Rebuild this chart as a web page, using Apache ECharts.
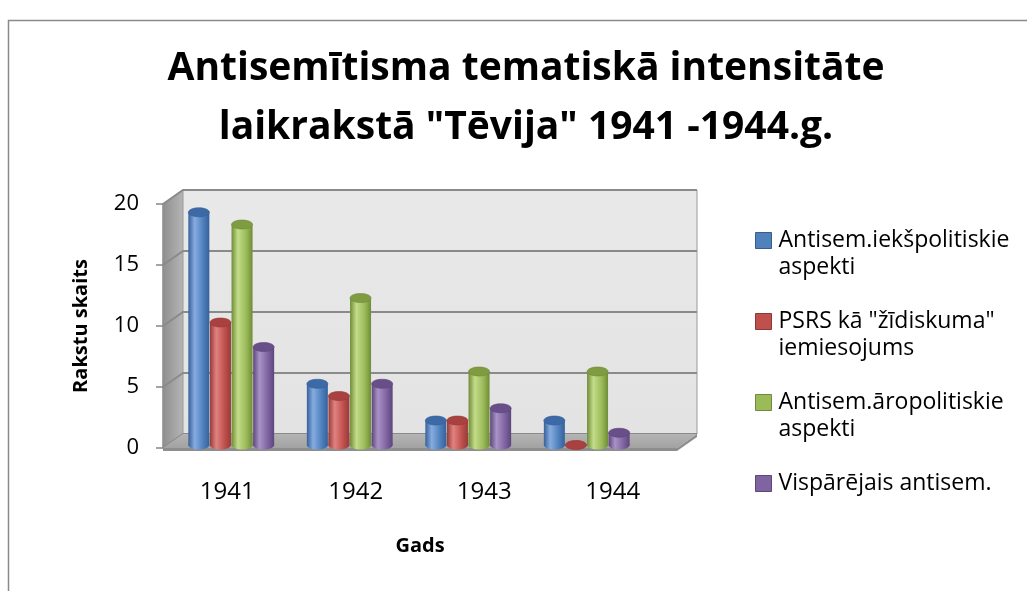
<!DOCTYPE html>
<html><head><meta charset="utf-8">
<script src="https://cdn.jsdelivr.net/npm/echarts@6/dist/echarts.min.js"></script>
<style>html,body{margin:0;padding:0;background:#fff}#c{width:1027px;height:591px}</style>
</head><body><div id="c"></div>
<script>
// ---- data ----
const categories = ['1941', '1942', '1943', '1944'];
const seriesNames = [
  'Antisem.iekšpolitiskie\naspekti',
  'PSRS kā "žīdiskuma"\niemiesojums',
  'Antisem.āropolitiskie\naspekti',
  'Vispārējais antisem.'
];
const iekspolitiskie = [19, 5, 2, 2];
const psrs = [10, 4, 2, 0];
const aropolitiskie = [18, 12, 6, 6];
const visparejais = [8, 5, 3, 1];
const yTicks = [0, 5, 10, 15, 20];
const titleText = 'Antisemītisma tematiskā intensitāte\nlaikrakstā "Tēvija" 1941 -1944.g.';
const yAxisName = 'Rakstu skaits';
const xAxisName = 'Gads';

// ---- styling ----
const FONT = 'Open Sans';
const pals = [
  {base:'#4F81BD', light:'#86ace0', dark:'#36609a', cap:'#3d6aa6', border:'#385d8a'},
  {base:'#C0504D', light:'#e08380', dark:'#973a38', cap:'#a8413f', border:'#8c3836'},
  {base:'#9BBB59', light:'#c3dc8a', dark:'#6f8c36', cap:'#7f9c43', border:'#71893f'},
  {base:'#8064A2', light:'#a892c6', dark:'#5c467b', cap:'#694f8a', border:'#5c4776'}
];
const allSeries = [iekspolitiskie, psrs, aropolitiskie, visparejais];
const DX = 20, DY = -14;

function wallsRender(params, api) {
  const cs = params.coordSys;
  const x0 = cs.x, x1 = cs.x + cs.width;
  const yv = v => api.coord([0, v])[1];
  const y20 = yv(yTicks[yTicks.length - 1]), y0 = yv(0);
  const children = [];
  children.push({type:'polygon', shape:{points:[[x0,y20],[x0+DX,y20+DY],[x0+DX,y0+DY],[x0,y0]]},
    style:{fill:new echarts.graphic.LinearGradient(0,0,1,0,[{offset:0,color:'#8f8f8f'},{offset:1,color:'#b5b5b5'}])}});
  children.push({type:'polygon', shape:{points:[[x0+DX,y20+DY],[x1+DX,y20+DY],[x1+DX,y0+DY],[x0+DX,y0+DY]]},
    style:{fill:new echarts.graphic.LinearGradient(0,0,0,1,[{offset:0,color:'#e9e9e9'},{offset:1,color:'#e3e3e3'}]), stroke:'#9a9a9a', lineWidth:1}});
  yTicks.forEach(t => {
    const y = yv(t);
    children.push({type:'polyline', shape:{points:[[x0,y],[x0+DX,y+DY],[x1+DX,y+DY]]},
      style:{fill:'none', stroke:'#8a8a8a', lineWidth:2}});
  });
  children.push({type:'polygon', shape:{points:[[x0,y0],[x0+DX,y0+DY],[x1+DX,y0+DY],[x1,y0]]},
    style:{fill:new echarts.graphic.LinearGradient(0,0,0,1,[{offset:0,color:'#b4b4b4'},{offset:1,color:'#a2a2a2'}])}});
  children.push({type:'polygon', shape:{points:[[x0,y0],[x1,y0],[x1+DX,y0+DY],[x1+DX,y0+DY+3],[x1,y0+3],[x0,y0+3]]},
    style:{fill:'#8e8e8e'}});
  return {type:'group', children};
}

function cylinderRender(si) {
  return function (params, api) {
    const cat = api.value(0), v = api.value(1);
    const top = api.coord([cat, v]);
    const base = api.coord([cat, 0]);
    const cx = top[0] + (si - 1.5) * 21.6;
    const w = 21, rx = w / 2, ry = 4.5;
    const p = pals[si];
    const grad = new echarts.graphic.LinearGradient(0, 0, 1, 0, [
      {offset:0, color:p.dark}, {offset:0.3, color:p.light}, {offset:0.7, color:p.base}, {offset:1, color:p.dark}]);
    const children = [
      {type:'rect', shape:{x:cx - rx, y:top[1], width:w, height:Math.max(0, base[1] - top[1])}, style:{fill:grad}},
      {type:'ellipse', shape:{cx:cx, cy:base[1], rx:rx, ry:ry}, style:{fill:grad}},
      {type:'ellipse', shape:{cx:cx, cy:top[1], rx:rx, ry:ry}, style:{fill:p.cap, stroke:p.dark, lineWidth:0.6}}
    ];
    return {type:'group', children};
  };
}

// square icon aligned with the first text line (bbox padded to itemWidth x itemHeight)
const legendIcon = 'path://M0,0L16,0L16,16L0,16ZM18,43';

const series = [{
  type:'custom', name:'_walls', xAxisIndex:0, yAxisIndex:0, z:1, silent:true,
  renderItem: wallsRender, data:[[0, 0]]
}];
allSeries.forEach((arr, si) => {
  series.push({
    type:'custom', name:seriesNames[si], xAxisIndex:1, yAxisIndex:1, z:5,
    itemStyle:{color:pals[si].base},
    renderItem: cylinderRender(si),
    data: arr.map((v, i) => [i, v])
  });
});

const chart = echarts.init(document.getElementById('c'), null, {renderer:'canvas'});
chart.setOption({
  backgroundColor:'#ffffff',
  animation:false,
  textStyle:{fontFamily:FONT},
  title:{text:titleText, left:521, top:34, textAlign:'center',
    textStyle:{fontFamily:FONT, fontWeight:'bold', fontSize:39, lineHeight:59, color:'#000'}},
  graphic:[{type:'rect', shape:{x:8.5, y:20.5, width:1040, height:600}, style:{fill:'none', stroke:'#8a8a8a', lineWidth:1.5}, z:-10}],
  legend:{
    orient:'vertical', left:750, top:222, itemWidth:18, itemHeight:43, itemGap:27,
    formatter: n => (n.indexOf('\n') < 0 ? n + '\n ' : n),
    textStyle:{fontFamily:FONT, fontSize:23, lineHeight:27, color:'#000'},
    data: seriesNames.map((n, i) => ({name:n, icon: legendIcon,
      itemStyle:{color:pals[i].base, borderColor:pals[i].border, borderWidth:1}}))
  },
  grid:[
    {left:163, top:204, width:514, height:244},
    {left:172, top:200, width:474, height:245}
  ],
  xAxis:[
    {type:'category', gridIndex:0, data:categories,
      name:xAxisName, nameLocation:'middle', nameGap:88,
      nameTextStyle:{fontFamily:FONT, fontWeight:'bold', fontSize:20, color:'#000'},
      axisLine:{show:false}, axisTick:{show:false},
      axisLabel:{margin:32, fontSize:24, color:'#000', fontFamily:FONT}},
    {type:'category', gridIndex:1, data:categories, show:false}
  ],
  yAxis:[
    {type:'value', gridIndex:0, min:0, max:20, interval:5,
      name:yAxisName, nameLocation:'middle', nameGap:72, nameRotate:90,
      nameTextStyle:{fontFamily:FONT, fontWeight:'bold', fontSize:20, color:'#000'},
      axisLine:{show:true, lineStyle:{color:'#868686', width:1.5}},
      axisTick:{show:true, length:7, lineStyle:{color:'#868686', width:1.5}},
      splitLine:{show:false},
      axisLabel:{margin:24, fontSize:22, color:'#000', fontFamily:FONT}},
    {type:'value', gridIndex:1, min:0, max:20, interval:5, show:false, splitLine:{show:false}}
  ],
  series
});
</script>
</body></html>
